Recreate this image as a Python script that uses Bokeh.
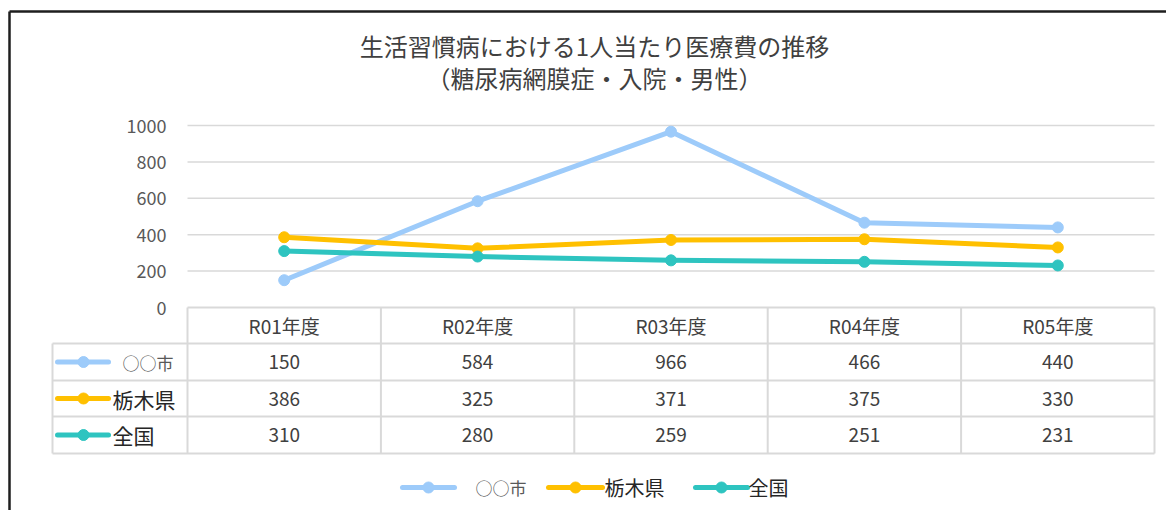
from bokeh.plotting import figure
from bokeh.models import Range1d
from bokeh.core.properties import value
from bokeh.embed import file_html
from bokeh.resources import INLINE

# ---------------- data ----------------
title_lines = ["生活習慣病における1人当たり医療費の推移", "（糖尿病網膜症・入院・男性）"]
categories = ["R01年度", "R02年度", "R03年度", "R04年度", "R05年度"]
series_names = ["○○市", "栃木県", "全国"]
city_values = [150, 584, 966, 466, 440]
pref_values = [386, 325, 371, 375, 330]
nation_values = [310, 280, 259, 251, 231]
y_ticks = [0, 200, 400, 600, 800, 1000]

series_values = [city_values, pref_values, nation_values]
colors = ["#9DCBFA", "#FFC000", "#2EC4C0"]

FONT = value("Noto Sans CJK JP")

# ---------------- layout helpers (page px -> data) ----------------
OFF = 0
W, H = 1166, 510
X0, SX = 187.0, 193.4      # page x of category edge 0, px per category
Y0, SY = 307.0, 0.182      # page y of value 0, px per value unit


def dx(X):
    return (X - X0) / SX


def dy(Y):
    return (Y0 - Y) / SY


p = figure(width=W, height=H,
           x_range=Range1d(dx(OFF), dx(OFF + W)), y_range=Range1d(dy(OFF + H), dy(OFF)),
           output_backend="svg", toolbar_location=None,
           x_axis_location=None, y_axis_location=None,
           min_border=0, outline_line_color=None,
           background_fill_color="white", border_fill_color="white")
p.grid.visible = False

n = len(categories)
xs = [i + 0.5 for i in range(n)]

# chart-area frame (left and top edges)
p.segment(x0=[dx(9), dx(9)], y0=[dy(11), dy(11)], x1=[dx(9), dx(1180)], y1=[dy(530), dy(11)],
          line_color="#1E1E1E", line_width=2.5)

# title
p.text(x=[dx(594), dx(594)], y=[dy(45), dy(77)], text=title_lines,
       text_font=FONT, text_font_size="24px", text_color="#404040",
       text_align="center", text_baseline="middle")

# gridlines (value axis)
grid_t = [t for t in y_ticks if t > 0]
p.segment(x0=[0] * len(grid_t), y0=grid_t, x1=[n] * len(grid_t), y1=grid_t,
          line_color="#D9D9D9", line_width=1.5)

# y tick labels
p.text(x=[dx(166)] * len(y_ticks), y=y_ticks, text=[str(t) for t in y_ticks],
       text_font=FONT, text_font_size="18px", text_color="#595959",
       text_align="right", text_baseline="middle")

# ---------------- data table ----------------
row_edges = [dy(307), dy(343), dy(380), dy(416), dy(453)]
row_centers = [(row_edges[k] + row_edges[k + 1]) / 2 for k in range(4)]
label_left = dx(52)
tbl_col = "#D9D9D9"
# horizontal lines
hx0 = [0] + [label_left] * 4
hx1 = [n] * 5
p.segment(x0=hx0, y0=row_edges, x1=hx1, y1=row_edges, line_color=tbl_col, line_width=2)
# vertical lines
vx = list(range(n + 1))
p.segment(x0=vx, y0=[row_edges[0]] * len(vx), x1=vx, y1=[row_edges[-1]] * len(vx),
          line_color=tbl_col, line_width=2)
p.segment(x0=[label_left], y0=[row_edges[1]], x1=[label_left], y1=[row_edges[-1]],
          line_color=tbl_col, line_width=2)

# header
p.text(x=xs, y=[row_centers[0]] * n, text=categories,
       text_font=FONT, text_font_size="19px", text_color="#404040",
       text_align="center", text_baseline="middle")

label_sizes = ["17px", "21px", "21px"]
label_colors = ["#595959", "#262626", "#262626"]
label_starts = [122, 112, 112]

for k, (name, vals, c) in enumerate(zip(series_names, series_values, colors)):
    yc = row_centers[k + 1]
    # values
    p.text(x=xs, y=[yc] * n, text=[str(v) for v in vals],
           text_font=FONT, text_font_size="19px", text_color="#404040",
           text_align="center", text_baseline="middle")
    # row label key
    p.line(x=[dx(57), dx(108)], y=[yc, yc], line_color=c, line_width=5, line_cap="round")
    p.scatter(x=[dx(83)], y=[yc], size=11, color=c)
    p.text(x=[dx(label_starts[k])], y=[yc], text=[name],
           text_font=FONT, text_font_size=label_sizes[k], text_color=label_colors[k],
           text_align="left", text_baseline="middle")

# ---------------- series lines ----------------
for name, vals, c in zip(series_names, series_values, colors):
    p.line(x=xs, y=vals, line_color=c, line_width=5, line_cap="round", line_join="round")
    p.scatter(x=xs, y=vals, size=11, color=c)

# ---------------- legend ----------------
leg_y = dy(487)
leg_line = [(402, 454), (548, 602), (695, 747)]
leg_text = [475, 604, 748]
leg_sizes = ["17px", "20px", "20px"]
for k, (name, c) in enumerate(zip(series_names, colors)):
    a, b = leg_line[k]
    p.line(x=[dx(a), dx(b)], y=[leg_y, leg_y], line_color=c, line_width=5, line_cap="round")
    p.scatter(x=[dx((a + b) / 2)], y=[leg_y], size=11, color=c)
    p.text(x=[dx(leg_text[k])], y=[leg_y], text=[name],
           text_font=FONT, text_font_size=leg_sizes[k], text_color=label_colors[k],
           text_align="left", text_baseline="middle")

open("out.html", "w").write(file_html(p, INLINE))
